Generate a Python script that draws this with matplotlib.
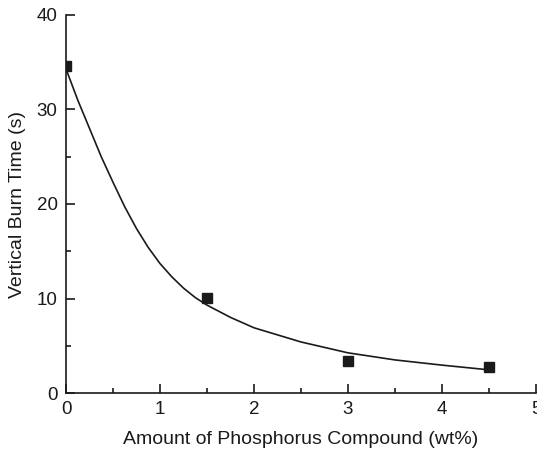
import matplotlib.pyplot as plt
from matplotlib.ticker import MultipleLocator

plt.rcParams['font.family'] = ['Liberation Sans', 'DejaVu Sans']

# measured points
x_pts = [0.0, 1.5, 3.0, 4.5]
y_pts = [34.6, 10.1, 3.4, 2.8]

# fitted curve
x_fit = [0.0, 0.125, 0.25, 0.375, 0.5, 0.625, 0.75, 0.875, 1.0, 1.125, 1.25,
         1.375, 1.5, 1.75, 2.0, 2.5, 3.0, 3.5, 4.0, 4.5]
y_fit = [34.3, 31.0, 28.0, 25.0, 22.3, 19.7, 17.4, 15.4, 13.7, 12.3, 11.1,
         10.1, 9.3, 8.0, 6.9, 5.4, 4.25, 3.5, 2.95, 2.45]

fig = plt.figure(figsize=(5.37, 4.59), dpi=100)
ax = fig.add_axes([66/537, 1 - 393/459, (536 - 66)/537, (393 - 15)/459])

ax.plot(x_fit, y_fit, color='#1a1a1a', lw=1.2)
ax.plot(x_pts, y_pts, 's', color='#1a1a1a', ms=7)

ax.set_xlim(0, 5)
ax.set_ylim(0, 40)
ax.xaxis.set_major_locator(MultipleLocator(1))
ax.xaxis.set_minor_locator(MultipleLocator(0.5))
ax.yaxis.set_major_locator(MultipleLocator(10))
ax.yaxis.set_minor_locator(MultipleLocator(5))

for s in ['top', 'right']:
    ax.spines[s].set_visible(False)
for s in ['left', 'bottom']:
    ax.spines[s].set_linewidth(1.2)
    ax.spines[s].set_color('#1a1a1a')

ax.tick_params(which='major', direction='in', length=6.5, width=1.2, labelsize=13.5,
               colors='#1a1a1a', pad=6)
ax.tick_params(which='minor', direction='in', length=3.5, width=1.2, colors='#1a1a1a')

ax.set_xlabel('Amount of Phosphorus Compound (wt%)', fontsize=14, color='#1a1a1a', labelpad=9)
ax.set_ylabel('Vertical Burn Time (s)', fontsize=14, color='#1a1a1a', labelpad=8)

fig.savefig('out.png', dpi=100)
